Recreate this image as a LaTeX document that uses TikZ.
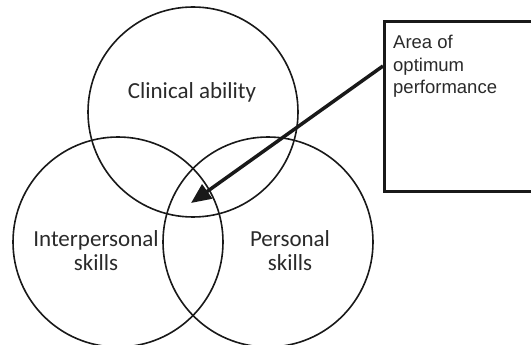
\documentclass[tikz,border=0pt]{standalone}
\usepackage{fontspec}
\setmainfont{Carlito}
\newfontfamily\boxfont{Liberation Sans}
\usetikzlibrary{arrows.meta}
\definecolor{inkgray}{HTML}{2A2A2A}
\tikzset{
  venn/.style={circle, draw=black!90, line width=1.6pt, minimum size=210pt, inner sep=0pt},
  vlabel/.style={text=inkgray, font=\fontsize{23}{24}\selectfont, align=center, inner sep=0pt},
  calloutbox/.style={draw=black!90, line width=3.2pt, minimum width=190pt, minimum height=170pt, inner sep=0pt, anchor=north west},
  callouttext/.style={font=\boxfont\fontsize{18.5}{22.5}\selectfont, text=inkgray, align=left, anchor=north west, inner sep=0pt},
  bigarrow/.style={line width=3.5pt, draw=black!90, -{Triangle[length=20pt,width=17pt]}}
}
\begin{document}
\begin{tikzpicture}[x=1pt,y=-1pt]
\useasboundingbox (0,0) rectangle (531,345);
\clip (0,0) rectangle (531,345);
\node[venn] (top) at (193,112) {};
\node[venn] (left) at (118,242) {};
\node[venn] (right) at (268,242) {};
\node[vlabel] (tl) at (192,92) {Clinical ability};
\node[vlabel] (ll) at (96,251) {Interpersonal\\skills};
\node[vlabel] (rl) at (290,251) {Personal\\skills};
\node[calloutbox] (box) at (383,20) {};
\node[callouttext] (bt) at (393,35) {Area of\\optimum\\performance};
\coordinate (tip) at (191,203);
\draw[bigarrow] ([yshift=-46pt]box.north west) -- (tip);
\end{tikzpicture}
\end{document}
